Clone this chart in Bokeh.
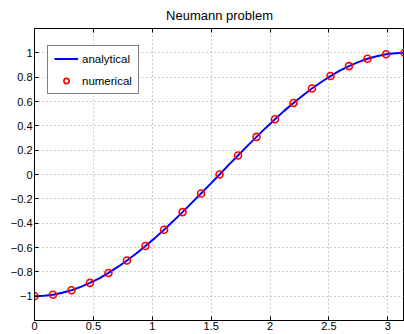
from bokeh.plotting import figure
from bokeh.models import LinearAxis, FixedTicker, Range1d, Legend, LegendItem, Grid
from bokeh.embed import file_html
from bokeh.resources import INLINE

title = "Neumann problem"
x_ticks = [0, 0.5, 1, 1.5, 2, 2.5, 3]
y_ticks = [-1, -0.8, -0.6, -0.4, -0.2, 0, 0.2, 0.4, 0.6, 0.8, 1]

analytical_x = [0, 0.079, 0.157, 0.236, 0.314, 0.393, 0.471, 0.550, 0.628, 0.707,
                0.785, 0.864, 0.942, 1.021, 1.100, 1.178, 1.257, 1.335, 1.414, 1.492,
                1.571, 1.649, 1.728, 1.806, 1.885, 1.963, 2.042, 2.120, 2.199, 2.278,
                2.356, 2.435, 2.513, 2.592, 2.670, 2.749, 2.827, 2.906, 2.985, 3.063, 3.142]
analytical_y = [-1.0, -0.997, -0.988, -0.972, -0.951, -0.924, -0.891, -0.853, -0.809, -0.760,
                -0.707, -0.649, -0.588, -0.523, -0.454, -0.383, -0.309, -0.233, -0.156, -0.079,
                0.0, 0.079, 0.156, 0.233, 0.309, 0.383, 0.454, 0.523, 0.588, 0.649,
                0.707, 0.760, 0.809, 0.853, 0.891, 0.924, 0.951, 0.972, 0.988, 0.997, 1.0]

numerical_x = [0, 0.157, 0.314, 0.471, 0.628, 0.785, 0.942, 1.100, 1.257, 1.414, 1.571,
               1.728, 1.885, 2.042, 2.199, 2.356, 2.513, 2.670, 2.827, 2.985, 3.142]
numerical_y = [-1.0, -0.988, -0.951, -0.891, -0.809, -0.707, -0.588, -0.454, -0.309, -0.156, 0.0,
               0.156, 0.309, 0.454, 0.588, 0.707, 0.809, 0.891, 0.951, 0.988, 1.0]

FONT = "Liberation Sans"

p = figure(width=404, height=334, output_backend="svg", toolbar_location=None,
           x_range=Range1d(0, 3.1416), y_range=Range1d(-1.2, 1.2),
           min_border_left=34, min_border_right=0, min_border_top=28, min_border_bottom=14,
           x_axis_type=None, y_axis_type=None)

p.title.text = title
p.title.align = "center"
p.title.vertical_align = "top"
p.title.text_font = FONT
p.title.text_font_size = "13px"
p.title.text_font_style = "normal"
p.title.text_color = "black"
p.title.offset = 0
p.title.standoff = 8

p.outline_line_color = "black"
p.outline_line_width = 1
p.background_fill_color = "white"
p.border_fill_color = "white"

def style_axis(ax):
    ax.axis_line_color = "black"
    ax.axis_line_width = 1
    ax.major_tick_in = 4
    ax.major_tick_out = 0
    ax.major_tick_line_color = "black"
    ax.minor_tick_line_color = None
    ax.major_label_text_font = FONT
    ax.major_label_text_font_size = "11px"
    ax.major_label_text_color = "black"

xa = LinearAxis(ticker=FixedTicker(ticks=x_ticks))
style_axis(xa)
xa.major_label_standoff = 1
p.add_layout(xa, "below")

ya = LinearAxis(ticker=FixedTicker(ticks=y_ticks))
style_axis(ya)
ya.major_label_standoff = 2
ya.major_label_overrides = {t: ("\u2212" + f"{abs(t):g}" if t < 0 else f"{t:g}") for t in y_ticks}
p.add_layout(ya, "left")

xt = LinearAxis(ticker=FixedTicker(ticks=x_ticks))
style_axis(xt)
xt.axis_line_color = None
xt.major_label_text_font_size = "1px"
xt.major_label_text_color = None
xt.major_label_standoff = 0
p.add_layout(xt, "above")

p.add_layout(Grid(dimension=0, ticker=FixedTicker(ticks=x_ticks), grid_line_color="#a0a0a0",
                  grid_line_dash="1 3", grid_line_width=1))
p.add_layout(Grid(dimension=1, ticker=FixedTicker(ticks=y_ticks), grid_line_color="#a0a0a0",
                  grid_line_dash="1 3", grid_line_width=1))

r_line = p.line(analytical_x, analytical_y, line_color="#0000ff", line_width=2)
r_pts = p.scatter(numerical_x, numerical_y, marker="circle", size=7, fill_color=None,
                  line_color="#ff0000", line_width=1.6)

legend = Legend(items=[LegendItem(label="analytical", renderers=[r_line]),
                       LegendItem(label="numerical", renderers=[r_pts])],
                location=(13, 226))
legend.label_text_font = FONT
legend.label_text_font_size = "11.5px"
legend.label_text_color = "black"
legend.border_line_color = "black"
legend.border_line_width = 1
legend.background_fill_alpha = 1
legend.padding = 6
legend.margin = 0
legend.spacing = 9
legend.glyph_width = 24
legend.glyph_height = 13
legend.label_standoff = 4
legend.label_height = 13
p.add_layout(legend, "center")

open("out.html", "w").write(file_html(p, INLINE))
